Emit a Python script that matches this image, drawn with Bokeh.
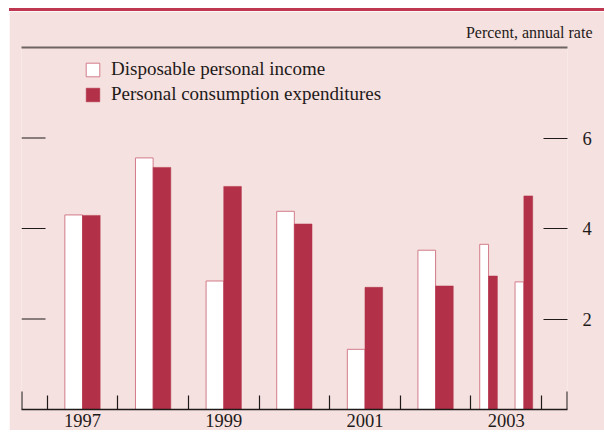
from bokeh.plotting import figure
from bokeh.models import (ColumnDataSource, LinearAxis, FixedTicker, Legend, LegendItem,
                          Title, Range1d)
from bokeh.embed import file_html
from bokeh.resources import INLINE

# ---- data ----
periods = ["1997", "1998", "1999", "2000", "2001", "2002", "2003:H1", "2003:H2"]
dpi = [4.30, 5.56, 2.84, 4.38, 1.33, 3.52, 3.65, 2.82]   # Disposable personal income
pce = [4.29, 5.35, 4.93, 4.10, 2.70, 2.73, 2.95, 4.72]   # Personal consumption expenditures
y_ticks = [2, 4, 6]
year_labels = ["1997", "1999", "2001", "2003"]
years = list(range(1997, 2004))

# ---- styles ----
BG = "#F5E1DF"
RED = "#B23149"
OUTLINE = "#D27C8A"
INK = "#1E1A1A"
GRAY = "#6E6464"
FONT = "Liberation Serif"

W, H = 595, 422
LEFT, RIGHT, TOP, BOTTOM = 12, 37, 36, 24
X0, X1 = 1996.636, 2004.368
Y0, Y1 = 0, 8.0
FW, FH = W - LEFT - RIGHT, H - TOP - BOTTOM

def span(p):
    if ":H" in p:
        y, h = p.split(":H")
        s = int(y) + (int(h) - 1) * 0.5
        return s, s + 0.5
    return int(p), int(p) + 1

centers, lengths = [], []
for p_ in periods:
    s, e = span(p_)
    centers.append((s + e) / 2)
    lengths.append(e - s)

src = ColumnDataSource(dict(
    period=periods,
    x_dpi=[c - l / 8 for c, l in zip(centers, lengths)],
    x_pce=[c + l / 8 for c, l in zip(centers, lengths)],
    w=[l / 4 for l in lengths],
    dpi=dpi, pce=pce,
))

p = figure(width=W, height=H, output_backend="svg", toolbar_location=None,
           x_range=Range1d(X0, X1), y_range=Range1d(Y0, Y1),
           x_axis_location=None, y_axis_location=None,
           min_border_left=LEFT, min_border_right=RIGHT,
           min_border_top=TOP, min_border_bottom=BOTTOM)
p.background_fill_color = BG
p.border_fill_color = BG
p.outline_line_color = None
p.xgrid.visible = False
p.ygrid.visible = False
p.styles = {"border-top": "3px solid #BE3650", "margin-top": "8px", "margin-left": "9px"}

r1 = p.vbar(x="x_dpi", width="w", top="dpi", bottom=0, source=src,
            fill_color="white", line_color=OUTLINE, line_width=1)
r2 = p.vbar(x="x_pce", width="w", top="pce", bottom=0, source=src,
            fill_color=RED, line_color=RED, line_width=0.5)

px_per_unit = FH / (Y1 - Y0)
px_per_year = FW / (X1 - X0)

# bottom axis: year boundaries as minor ticks, labels centred on odd years
xb = LinearAxis(ticker=FixedTicker(ticks=[int(y) + 0.5 for y in year_labels], minor_ticks=years + [years[-1] + 1]),
                major_label_overrides={int(y) + 0.5: y for y in year_labels},
                major_tick_in=0, major_tick_out=0, minor_tick_in=14, minor_tick_out=0,
                minor_tick_line_color=INK, minor_tick_line_width=1.2,
                axis_line_color=INK, axis_line_width=1.5,
                major_label_text_font=FONT, major_label_text_font_size="18.5px",
                major_label_text_color=INK, major_label_standoff=4)
p.add_layout(xb, "below")

# end ticks of the baseline (18px tall)
p.segment(x0=[X0, X1], x1=[X0, X1], y0=[0, 0], y1=[18 / px_per_unit] * 2,
          line_color=INK, line_width=2)

# left tick marks (no labels)
p.segment(x0=[X0] * len(y_ticks), x1=[X0 + 24 / px_per_year] * len(y_ticks),
          y0=y_ticks, y1=y_ticks, line_color=INK, line_width=1.2)

# right axis: tick marks and labels
yr = LinearAxis(ticker=FixedTicker(ticks=y_ticks, minor_ticks=[]),
                major_tick_in=24, major_tick_out=0, major_tick_line_color=INK,
                major_tick_line_width=1.2, axis_line_color=None,
                major_label_text_font=FONT, major_label_text_font_size="18.5px",
                major_label_text_color=INK, major_label_standoff=15)
p.add_layout(yr, "right")

# top rule (gray)
xt = LinearAxis(ticker=FixedTicker(ticks=[], minor_ticks=[]),
                axis_line_color=GRAY, axis_line_width=2,
                major_tick_out=0, major_tick_in=0)
p.add_layout(xt, "above")

# units note as a right-aligned title, pushed past the frame's right edge
p.add_layout(Title(text="Percent, annual rate", align="right", offset=-25,
                   text_font=FONT, text_font_size="16px", text_font_style="normal",
                   text_color=INK, standoff=13), "above")

legend = Legend(items=[LegendItem(label="Disposable personal income", renderers=[r1]),
                       LegendItem(label="Personal consumption expenditures", renderers=[r2])],
                location=(63, FH - 13 - 45), orientation="vertical",
                background_fill_alpha=0, border_line_color=None,
                padding=0, margin=0, spacing=3,
                glyph_width=17, glyph_height=17, label_height=17,
                label_standoff=10, label_text_font=FONT,
                label_text_font_size="19px", label_text_color=INK)
p.add_layout(legend, "center")

open("out.html", "w").write(file_html(p, INLINE))
